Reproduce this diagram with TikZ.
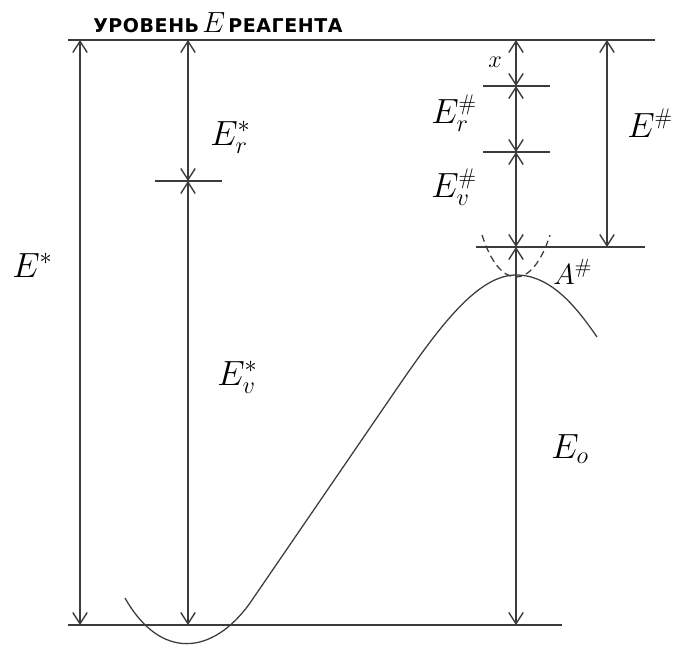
\documentclass[tikz,border=0pt]{standalone}
\usepackage{fontspec}
\newfontfamily\levelfont[LetterSpace=3]{DejaVu Sans}
\usetikzlibrary{arrows.meta}
\definecolor{lineink}{RGB}{60,60,60}

\begin{document}
\begin{tikzpicture}[
        x=0.025cm, y=-0.025cm,
        level/.style={line width=1pt, lineink},
        dimarrow/.style={{Straight Barb[length=2.8mm,width=3.6mm]}-{Straight Barb[length=2.8mm,width=3.6mm]}, line width=1pt, lineink},
        tickline/.style={line width=1pt, lineink},
        curveline/.style={line width=0.9pt, lineink},
        lbl/.style={anchor=base west, inner sep=0pt, font=\fontsize{23}{26}\selectfont},
        biglbl/.style={anchor=base west, inner sep=0pt, font=\fontsize{27}{30}\selectfont}
    ]
        \useasboundingbox (0,0) rectangle (675,650);

        % energy levels
        \coordinate (topL)  at (68,40);
        \coordinate (topR)  at (655,40);
        \coordinate (botL)  at (68,625);
        \coordinate (botR)  at (562,625);
        \coordinate (actL)  at (476,247);
        \coordinate (actR)  at (645,247);
        \draw[level] (topL) -- (topR);
        \draw[level] (botL) -- (botR);
        \draw[level] (actL) -- (actR);

        \node[anchor=base west, inner sep=0pt, font=\levelfont\bfseries\fontsize{13.5}{15}\selectfont] (title) at (93,33)
            {УРОВЕНЬ\,{\fontsize{20}{22}\selectfont$E$}\,РЕАГЕНТА};

        % left arrows
        \coordinate (aTop) at (80,40);
        \coordinate (aBot) at (80,625);
        \coordinate (bTop) at (188,40);
        \coordinate (bMid) at (188,181);
        \coordinate (bBot) at (188,625);
        \coordinate (bMidL) at (155,181);
        \coordinate (bMidR) at (222,181);
        \draw[dimarrow] (aTop) -- (aBot);
        \draw[dimarrow] (bTop) -- (bMid);
        \draw[dimarrow] (bMid) -- (bBot);
        \draw[tickline] (bMidL) -- (bMidR);

        % right arrows
        \coordinate (cTop) at (516,40);
        \coordinate (cOne) at (516,86);
        \coordinate (cTwo) at (516,152);
        \coordinate (cAct) at (516,247);
        \coordinate (cBot) at (516,625);
        \coordinate (cOneL) at (483,86);
        \coordinate (cOneR) at (550,86);
        \coordinate (cTwoL) at (483,152);
        \coordinate (cTwoR) at (550,152);
        \draw[dimarrow] (cTop) -- (cOne);
        \draw[dimarrow] (cOne) -- (cTwo);
        \draw[dimarrow] (cTwo) -- (cAct);
        \draw[dimarrow] (cAct) -- (cBot);
        \draw[tickline] (cOneL) -- (cOneR);
        \draw[tickline] (cTwoL) -- (cTwoR);
        \coordinate (dTop) at (607,40);
        \coordinate (dBot) at (607,247);
        \draw[dimarrow] (dTop) -- (dBot);

        % potential curve
        \coordinate (cvStart) at (125,598);
        \coordinate (cvA)     at (250,603);
        \coordinate (cvB)     at (400,384);
        \coordinate (cvPeak)  at (516,275);
        \coordinate (cvEnd)   at (597,337);
        \draw[curveline] (cvStart) .. controls (160,660) and (212,656) .. (cvA)
            -- (cvB) .. controls (440,326) and (478,275) .. (cvPeak)
            .. controls (550,275) and (575,305) .. (cvEnd);

        % transverse well at the saddle
        \coordinate (wellL) at (482,235);
        \coordinate (wellR) at (550,235);
        \draw[curveline, dashed, dash pattern=on 5pt off 3pt] (wellL) .. controls (500,291) and (532,291) .. (wellR);

        % labels
        \node[biglbl] (lEstar)  at (12,277)  {$E^{*}$};
        \node[lbl]    (lErstar) at (210,145) {$E_{r}^{*}$};
        \node[lbl]    (lEvstar) at (217,385) {$E_{v}^{*}$};
        \node[anchor=base west, inner sep=0pt, font=\fontsize{16}{18}\selectfont] (lx) at (488,68) {$x$};
        \node[lbl]    (lErh)    at (431,123) {$E_{r}^{\#}$};
        \node[lbl]    (lEvh)    at (431,197) {$E_{v}^{\#}$};
        \node[lbl]    (lEh)     at (627,137) {$E^{\#}$};
        \node[lbl, font=\fontsize{21}{24}\selectfont] (lAh) at (553,284) {$A^{\#}$};
        \node[lbl]    (lEo)     at (551,458) {$E_{o}$};
    \end{tikzpicture}
\end{document}
